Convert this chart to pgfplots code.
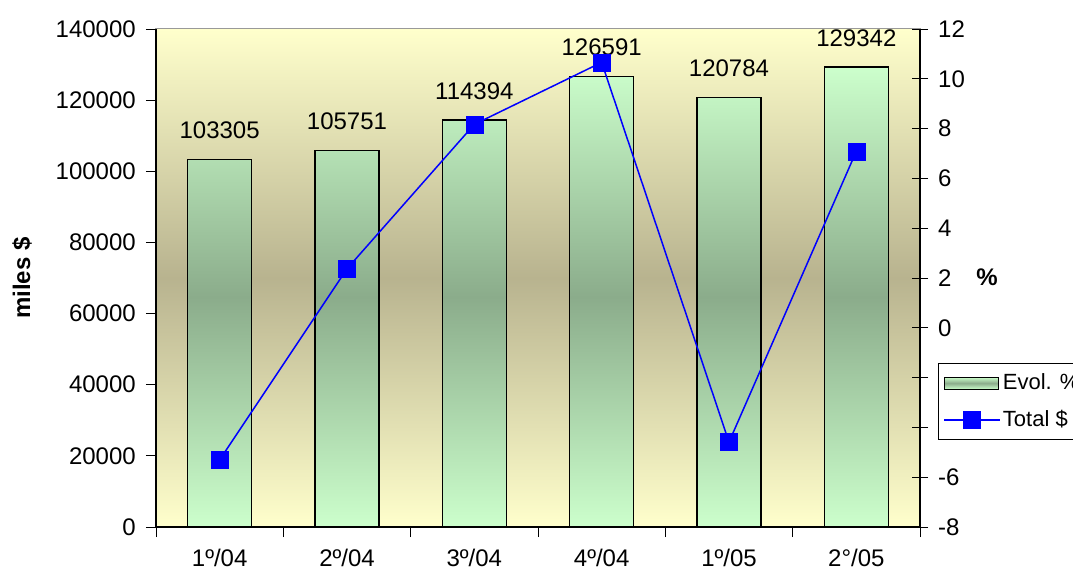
\documentclass[border=0pt]{standalone}
\usepackage{pgfplots}
\pgfplotsset{compat=1.18}
\usepackage{fontspec}
\setmainfont{Liberation Sans}

\definecolor{bgtop}{HTML}{FFFFCC}
\definecolor{bgmid}{HTML}{B8B38F}
\definecolor{bartop}{HTML}{CCFFCC}
\definecolor{barmid}{HTML}{8BAC8B}
\definecolor{lineblue}{HTML}{0000FF}

\newcommand{\chartfont}{\fontsize{24}{28}\selectfont}

\pgfplotsset{
  longline legend/.style={
    legend image code/.code={
      \draw[mark repeat=2, mark phase=2, ##1] plot coordinates {(0pt,0pt) (28pt,0pt) (56pt,0pt)};}},
  bar legend/.style={
    legend image code/.code={
      \draw[draw=black, line width=1.3pt, top color=bartop, bottom color=bartop, middle color=barmid]
        (0pt,-6pt) rectangle (54pt,6pt);}},
}

\begin{document}
\begin{tikzpicture}
\chartfont
\path[use as bounding box] (-156pt,-44pt) rectangle (917pt,527pt);

\begin{axis}[
    at={(0pt,0pt)}, anchor=south west,
    scale only axis, width=764pt, height=498pt,
    xmin=-0.5, xmax=5.5,
    ymin=0, ymax=140000,
    axis x line*=bottom, axis y line*=left,
    axis line style={black, line width=1.2pt},
    axis background/.style={top color=bgtop, bottom color=bgtop, middle color=bgmid, draw=gray!80, line width=1pt},
    xtick={-0.5,0.5,...,5.5},
    x tick label as interval,
    xticklabels={1º/04, 2º/04, 3º/04, 4º/04, 1º/05, 2°/05},
    ytick={0,20000,...,140000},
    scaled y ticks=false,
    tick align=outside,
    major tick length=10pt,
    tick style={black, line width=0.8pt},
    /pgf/number format/.cd, assume math mode=true, fixed, precision=0, 1000 sep={},
    /pgfplots/.cd,
    yticklabel style={font=\chartfont, xshift=-2pt},
    xticklabel style={font=\chartfont, yshift=-4pt},
    ylabel={\bfseries miles \$},
    ylabel style={at={(axis description cs:-0.1754,0.5)}, anchor=center, font=\chartfont},
    nodes near coords,
    point meta=explicit symbolic,
    every node near coord/.append style={anchor=south, yshift=12pt, font=\chartfont},
]
\addplot[ybar, bar width=64pt, draw=black, line width=1.3pt,
    top color=bartop, bottom color=bartop, middle color=barmid]
coordinates {(0,103305) [103305] (1,105751) [105751] (2,114394) [114394]
             (3,126591) [126591] (4,120784) [120784] (5,129342) [129342]};
\end{axis}

\begin{axis}[
    at={(0pt,0pt)}, anchor=south west,
    scale only axis, width=764pt, height=498pt,
    xmin=-0.5, xmax=5.5,
    ymin=-8, ymax=12,
    axis x line=none, axis y line*=right,
    axis line style={black, line width=1.2pt},
    ytick={-8,-6,...,12},
    tick align=center,
    major tick length=16pt,
    tick style={black, line width=0.8pt},
    /pgf/number format/.cd, assume math mode=true, fixed, precision=0,
    /pgfplots/.cd,
    yticklabel style={font=\chartfont, xshift=2pt},
    ylabel={\bfseries\%},
    ylabel style={at={(axis description cs:1.0877,0.502)}, anchor=center, rotate=-90, font=\chartfont},
    legend style={at={(axis description cs:1.0236,0.3293)}, anchor=north west,
        fill=white, draw=black, line width=0.8pt, font=\fontsize{22}{26}\selectfont,
        row sep=13pt, inner xsep=5pt, inner ysep=8pt},
    legend cell align=left,
]
\addlegendimage{bar legend}
\addlegendentry{Evol. \%}
\addplot[lineblue, line width=1.5pt, mark=square*, mark size=8.5pt,
    mark options={fill=lineblue, draw=lineblue, line width=0.5pt},
    longline legend]
coordinates {(0,-5.3) (1,2.37) (2,8.17) (3,10.66) (4,-4.59) (5,7.09)};
\addlegendentry{Total \$}
\end{axis}
\end{tikzpicture}
\end{document}
